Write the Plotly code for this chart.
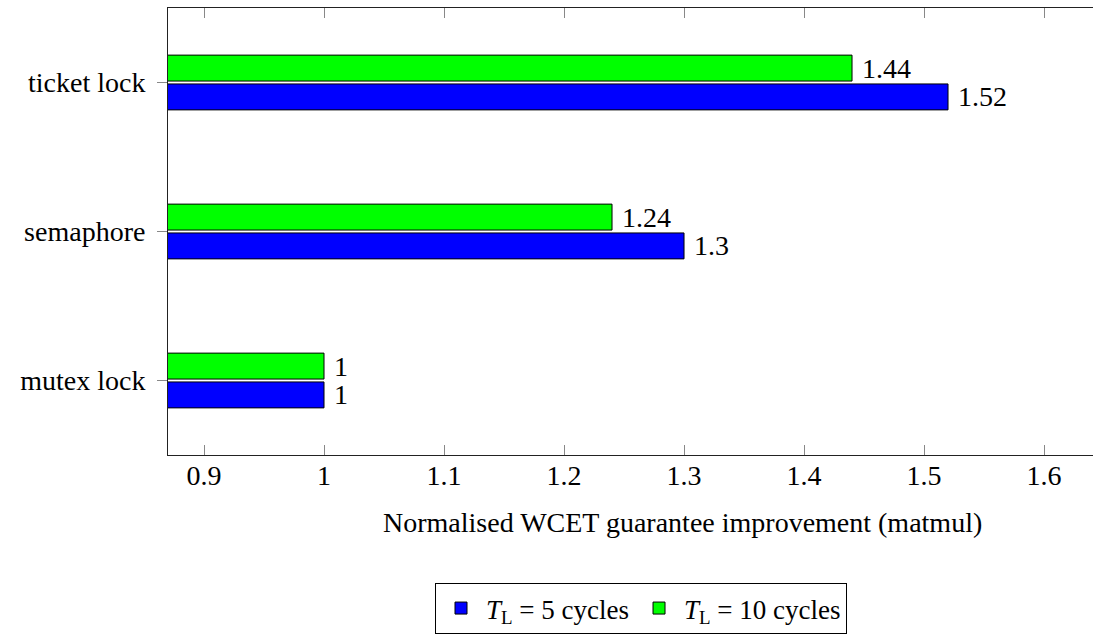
import plotly.graph_objects as go

categories = ["mutex lock", "semaphore", "ticket lock"]
tl5_values = [1.0, 1.3, 1.52]
tl10_values = [1.0, 1.24, 1.44]
tl5_name = "<i>T</i><sub>L</sub> = 5 cycles"
tl10_name = "<i>T</i><sub>L</sub> = 10 cycles"
x_tickvals = [0.9, 1.0, 1.1, 1.2, 1.3, 1.4, 1.5, 1.6]
x_ticktext = ["0.9", "1", "1.1", "1.2", "1.3", "1.4", "1.5", "1.6"]
x_title = "Normalised WCET guarantee improvement (matmul)"

FONT = "Liberation Serif, DejaVu Serif, serif"
FS = 28

def fmt(v):
    return "\u00a0" + ("%g" % v)

fig = go.Figure()
fig.add_trace(go.Bar(
    y=categories, x=tl5_values, orientation="h", name=tl5_name,
    marker=dict(color="#0000ff", line=dict(color="black", width=1)),
    text=[fmt(v) for v in tl5_values], textposition="outside",
    constraintext="none",
    textfont=dict(family=FONT, size=FS, color="black"), cliponaxis=False,
))
fig.add_trace(go.Bar(
    y=categories, x=tl10_values, orientation="h", name=tl10_name,
    marker=dict(color="#00ff00", line=dict(color="black", width=1)),
    text=[fmt(v) for v in tl10_values], textposition="outside",
    constraintext="none",
    textfont=dict(family=FONT, size=FS, color="black"), cliponaxis=False,
))

fig.update_layout(
    width=1093, height=637,
    margin=dict(l=168, r=0, t=8, b=182, autoexpand=False),
    paper_bgcolor="white", plot_bgcolor="white",
    barmode="group", bargap=0.613, bargroupgap=0.1,
    font=dict(family=FONT, size=FS, color="black"),
    showlegend=True,
    legend=dict(
        orientation="h", xref="container", x=641 / 1093, xanchor="center",
        yref="container", y=3 / 637, yanchor="bottom",
        bordercolor="black", borderwidth=1, bgcolor="white",
        font=dict(family=FONT, size=27), traceorder="normal",
        itemwidth=40, tracegroupgap=0,
    ),
)
fig.update_xaxes(
    range=[0.87, 1.6408], tickvals=x_tickvals, ticktext=x_ticktext,
    showgrid=False, zeroline=False,
    showline=True, linecolor="#222222", linewidth=1, mirror="ticks",
    ticks="inside", ticklen=10, tickcolor="#888888", tickwidth=1,
    tickfont=dict(family=FONT, size=FS), ticklabelstandoff=-5,
    title=dict(text=""), automargin=False,
)
fig.update_yaxes(
    range=[-0.5, 2.5], showgrid=False, zeroline=False,
    showline=True, linecolor="#222222", linewidth=1, mirror=False,
    ticks="outside", ticklen=10, tickcolor="#888888", tickwidth=1,
    tickfont=dict(family=FONT, size=FS), ticklabelstandoff=6, automargin=False,
)
fig.add_annotation(
    text=x_title, xref="paper", yref="paper",
    x=(682 - 168) / 925, y=-(522 - 455) / 447, xanchor="center", yanchor="middle",
    showarrow=False, font=dict(family=FONT, size=FS, color="black"),
)

fig.write_html("out.html")
